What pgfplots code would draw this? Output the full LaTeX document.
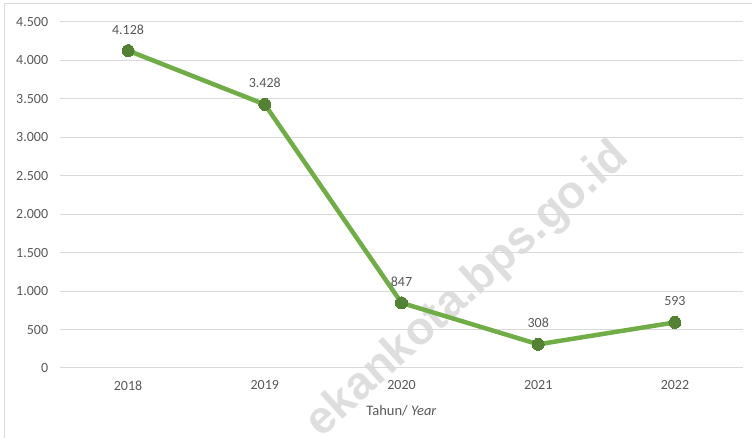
\documentclass[border=0pt]{standalone}
\usepackage{pgfplots}
\pgfplotsset{compat=1.18}
\usepackage{fontspec}
\setmainfont{Carlito}
\newfontfamily\wmfont{Liberation Sans}
\definecolor{linegreen}{HTML}{70AD47}
\definecolor{markgreen}{HTML}{548235}
\definecolor{txtgray}{HTML}{595959}
\definecolor{gridgray}{HTML}{D9D9D9}
\definecolor{wmgray}{HTML}{DEDEDE}
\begin{document}
\begin{tikzpicture}[x=1pt,y=1pt]
\begin{scope}
\clip (0,0) rectangle (752,438);
\node[rotate=42, text=wmgray, font=\wmfont\bfseries\fontsize{46}{46}\selectfont, inner sep=0] at (468,148) {ekankota.bps.go.id};
\end{scope}
\draw[gridgray, line width=1pt] (4,0) -- (4,434) -- (752,434);
\begin{axis}[
  at={(59.7pt,70pt)}, anchor=south west,
  scale only axis, width=683.6pt, height=346pt,
  xmin=-0.5, xmax=4.5, ymin=0, ymax=4500,
  xtick={0,1,2,3,4}, xticklabels={2018,2019,2020,2021,2022},
  ytick={0,500,...,4500},
  axis lines*=left, axis line style={draw=none},
  major tick style={draw=none},
  ymajorgrids, grid style={gridgray, line width=1pt},
  /pgf/number format/.cd, 1000 sep={.}, assume math mode=true,
  /pgfplots/.cd,
  ticklabel style={font=\fontsize{14}{16}\selectfont, text=txtgray},
  yticklabel style={xshift=-8pt},
  xticklabel style={yshift=-9pt},
  xlabel={Tahun/ \textit{Year}},
  xlabel style={font=\fontsize{14.5}{16}\selectfont, text=txtgray, yshift=-8pt},
  clip=false,
]
\addplot[linegreen, line width=4.5pt, mark=*, mark size=6pt,
  mark options={fill=markgreen, draw=markgreen, line width=0pt},
  nodes near coords, point meta=explicit symbolic,
  every node near coord/.style={font=\fontsize{14}{16}\selectfont, text=txtgray, yshift=13pt}]
coordinates {(0,4128)[4.128] (1,3428)[3.428] (2,847)[847] (3,308)[308] (4,593)[593]};
\end{axis}
\pgfresetboundingbox
\path (0,0) rectangle (752,438);
\end{tikzpicture}
\end{document}
